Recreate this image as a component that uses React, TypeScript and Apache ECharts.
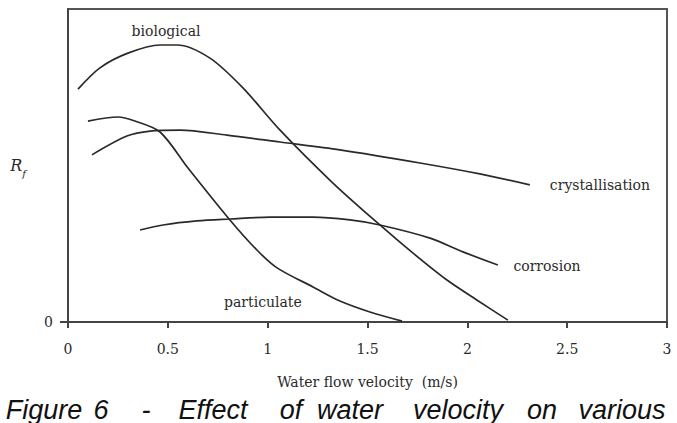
import React, { useEffect, useRef } from "react";
import * as echarts from "echarts";

// Fouling resistance curves, sampled as [velocity (m/s), relative Rf]
const biological: [number, number][] = [
  [0.05, 0.744], [0.16, 0.812], [0.3, 0.859], [0.461, 0.885], [0.546, 0.885],
  [0.711, 0.843], [0.876, 0.748], [1.062, 0.613], [1.327, 0.444], [1.562, 0.31],
  [1.728, 0.22], [1.898, 0.134], [2.063, 0.064], [2.203, 0.006],
];
const particulate: [number, number][] = [
  [0.1, 0.642], [0.25, 0.655], [0.335, 0.642], [0.461, 0.607], [0.601, 0.492],
  [0.811, 0.326], [0.946, 0.23], [1.047, 0.173], [1.227, 0.112], [1.362, 0.067],
  [1.512, 0.032], [1.673, 0.003],
];
const crystallisation: [number, number][] = [
  [0.12, 0.534], [0.295, 0.594], [0.411, 0.61], [0.561, 0.613], [0.796, 0.597],
  [1.062, 0.575], [1.362, 0.55], [1.763, 0.508], [2.063, 0.473], [2.313, 0.438],
];
const corrosion: [number, number][] = [
  [0.361, 0.294], [0.476, 0.31], [0.646, 0.323], [0.811, 0.329], [1.012, 0.335],
  [1.227, 0.335], [1.412, 0.326], [1.562, 0.31], [1.813, 0.268], [1.978, 0.224],
  [2.153, 0.182],
];

const seriesNames = ["biological", "particulate", "crystallisation", "corrosion"];
const seriesData = [biological, particulate, crystallisation, corrosion];
// where each curve's name sits, in data units
const labelAnchors: [number, number][] = [
  [0.491, 0.93], [0.976, 0.064], [2.664, 0.438], [2.399, 0.179],
];

const xTicks = { min: 0, max: 3, step: 0.5 };
const xAxisTitle = "Water flow velocity  (m/s)";
const captionWords = ["Figure", "6", "-", "Effect", "of", "water", "velocity", "on", "various"];
// horizontal centres of the justified caption words
const captionCentres = [44, 101, 146, 213, 291, 350, 458, 542, 622];

const SERIF = "'DejaVu Serif', serif";
const INK = "#2a2a2a";

export default function App() {
  const ref = useRef<HTMLDivElement>(null);

  useEffect(() => {
    if (!ref.current) return;
    const chart = echarts.init(ref.current, undefined, { renderer: "svg" });

    const series = seriesNames.map((name, i) => ({
      name,
      type: "line",
      data: seriesData[i],
      smooth: 0.3,
      showSymbol: false,
      lineStyle: { color: "#2a2a2a", width: 1.7 },
      markPoint: {
        symbol: "circle",
        symbolSize: 1,
        itemStyle: { color: "rgba(0,0,0,0)" },
        label: {
          show: true,
          position: "inside",
          formatter: name,
          fontFamily: SERIF,
          fontSize: 14,
          color: INK,
        },
        data: [{ coord: labelAnchors[i] }],
      },
    }));

    chart.setOption({
      animation: false,
      backgroundColor: "#fff",
      grid: {
        left: 68,
        right: 10,
        top: 9,
        bottom: 101,
        show: true,
        borderColor: "#555",
        borderWidth: 2,
        backgroundColor: "transparent",
      },
      xAxis: {
        type: "value",
        min: xTicks.min,
        max: xTicks.max,
        interval: xTicks.step,
        name: xAxisTitle,
        nameLocation: "middle",
        nameGap: 53,
        nameTextStyle: { fontFamily: SERIF, fontSize: 14, color: INK },
        axisLine: { show: true, lineStyle: { color: "#444", width: 2 } },
        axisTick: { show: true, length: 6, lineStyle: { color: "#444", width: 2 } },
        axisLabel: {
          margin: 20,
          fontFamily: SERIF,
          fontSize: 14,
          color: INK,
          formatter: (v: number) => String(v),
        },
        splitLine: { show: false },
      },
      yAxis: {
        type: "value",
        min: 0,
        max: 1,
        interval: 1,
        name: "{r|R}{s|f}",
        nameLocation: "middle",
        nameRotate: 0,
        nameGap: 42,
        nameTextStyle: {
          rich: {
            r: { fontFamily: SERIF, fontStyle: "italic", fontSize: 16, color: INK, lineHeight: 20 },
            s: {
              fontFamily: SERIF,
              fontStyle: "italic",
              fontSize: 10,
              color: INK,
              lineHeight: 26,
              verticalAlign: "bottom",
            },
          },
        },
        axisLine: { show: true, lineStyle: { color: "#444", width: 2 } },
        axisTick: { show: true, length: 8, customValues: [0], lineStyle: { color: "#444", width: 2 } },
        axisLabel: {
          margin: 15,
          fontFamily: SERIF,
          fontSize: 14,
          color: INK,
          customValues: [0],
          formatter: (v: number) => (v === 0 ? "0" : ""),
        },
        splitLine: { show: false },
      },
      series,
      graphic: captionWords.map((w, i) => ({
        type: "text",
        x: captionCentres[i],
        y: 396,
        style: {
          text: w,
          align: "center",
          verticalAlign: "top",
          font: "italic 27px 'Liberation Sans', Arial, sans-serif",
          fill: "#111",
        },
      })),
    });

    return () => chart.dispose();
  }, []);

  return (
    <div
      ref={ref}
      style={{ position: "absolute", left: 0, top: 0, width: 677, height: 423 }}
    />
  );
}
